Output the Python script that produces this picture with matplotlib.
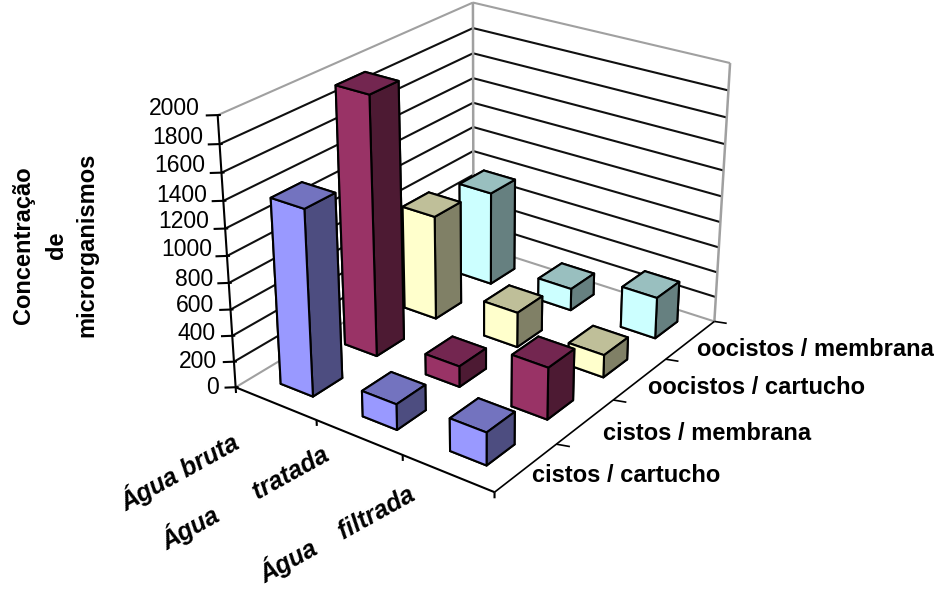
import matplotlib
matplotlib.use('Agg')
import matplotlib.pyplot as plt

W, H = 942, 594

categories = ['Água bruta', 'Água      tratada', 'Água    filtrada']
series = ['cistos / cartucho', 'cistos / membrana', 'oocistos / cartucho', 'oocistos / membrana']
cistos_cartucho = [1400, 195, 245]
cistos_membrana = [1970, 160, 395]
oocistos_cartucho = [820, 275, 175]
oocistos_membrana = [750, 175, 325]
values = [cistos_cartucho, cistos_membrana, oocistos_cartucho, oocistos_membrana]
z_ticks = list(range(0, 2001, 200))

# front, top and side face colours for each series
faces = [
    ('#9999ff', '#7373bf', '#4d4d80'),
    ('#993366', '#732650', '#4d1a33'),
    ('#ffffcc', '#bfbf99', '#808066'),
    ('#ccffff', '#99bfbf', '#668080'),
]


def px_text(x, y, s, **kw):
    kw.setdefault('fontsize', 17)
    kw.setdefault('fontweight', 'bold')
    kw.setdefault('family', 'Liberation Sans')
    kw.setdefault('ha', 'center')
    kw.setdefault('va', 'center')
    fig.text(x / W, 1 - y / H, s, **kw)


def line3d(xs, ys, zs, color='black', lw=1.5):
    ax.plot(xs, ys, zs, color=color, lw=lw, zorder=1, solid_capstyle='butt')


fig = plt.figure(figsize=(W / 100, H / 100), dpi=100)
size = 574
cx, cy = 475, 233
ax = fig.add_axes([(cx - size / 2) / W, 1 - (cy + size / 2) / H, size / W, size / H], projection='3d')
ax.set_box_aspect((313, 395, 288))
ax.view_init(elev=25.5, azim=-54)
ax.set_proj_type('persp', focal_length=0.6)
ax.set_xlim(0, 3, view_margin=0)
ax.set_ylim(0, 4, view_margin=0)
ax.set_zlim(0, 2000, view_margin=0)
ax.set_axis_off()
ax.computed_zorder = False
ax.patch.set_alpha(0)

# walls: left one at x=0, back one at y=4
grey = '#a0a0a0'
for z in z_ticks:
    c = grey if z in (0, 2000) else '#101010'
    line3d([0, 0], [0, 4], [z, z], color=c)
    line3d([0, 3], [4, 4], [z, z], color=c)
line3d([0, 0], [4, 4], [0, 2000], color=grey, lw=1.8)
line3d([3, 3], [4, 4], [0, 2000], color=grey, lw=1.8)

# axis lines and ticks
line3d([0, 0], [0, 0], [0, 2000])
line3d([0, 3], [0, 0], [0, 0])
line3d([3, 3], [0, 4], [0, 0], lw=1.2)
for z in z_ticks:
    line3d([0.02, -0.08], [0.02, -0.07], [z, z])
for i in range(4):
    line3d([i, i], [0, 0], [0, -45])
for j in range(1, 5):
    line3d([3, 3.12], [j, j + 0.04], [0, 0], lw=1.2)

# bars, painted from the back corner forward
bar_dx, bar_dy = 0.40, 0.45
y_shift = 0.04
zo = 2
for j in range(3, -1, -1):
    front, top, side = faces[j]
    # order: bottom, top, -y, +y, -x, +x
    colors = [front, top, front, front, side, side]
    for i in range(3):
        ax.bar3d(i + (1 - bar_dx) / 2, j + (1 - bar_dy) / 2 + y_shift, 0, bar_dx, bar_dy, values[j][i],
                 color=colors, shade=False, edgecolor='black', linewidth=1.5, zorder=zo)
        zo += 1

# value axis labels follow the slant of the axis
tick_y = [388, 361, 334, 306, 279, 250, 222, 195, 166, 137, 108]
tick_right = [219, 217, 216, 214, 213, 212, 209, 207, 205, 203, 200]
for z, x, y in zip(z_ticks, tick_right, tick_y):
    px_text(x, y, str(z), ha='right', fontweight='normal', fontsize=16.5)

px_text(24, 245, 'Concentração', rotation=90)
px_text(56, 245, 'de', rotation=90)
px_text(87, 245, 'microrganismos', rotation=90)

cat_pos = [(179, 472), (245, 497), (337, 534)]
for (x, y), name in zip(cat_pos, categories):
    px_text(x, y, name, rotation=29, style='italic', rotation_mode='anchor', fontsize=18)

ser_pos = [(532, 476), (603, 434), (648, 388), (697, 350)]
for (x, y), name in zip(ser_pos, series):
    px_text(x, y, name, ha='left', fontsize=17)

fig.savefig('out.png', dpi=100)
